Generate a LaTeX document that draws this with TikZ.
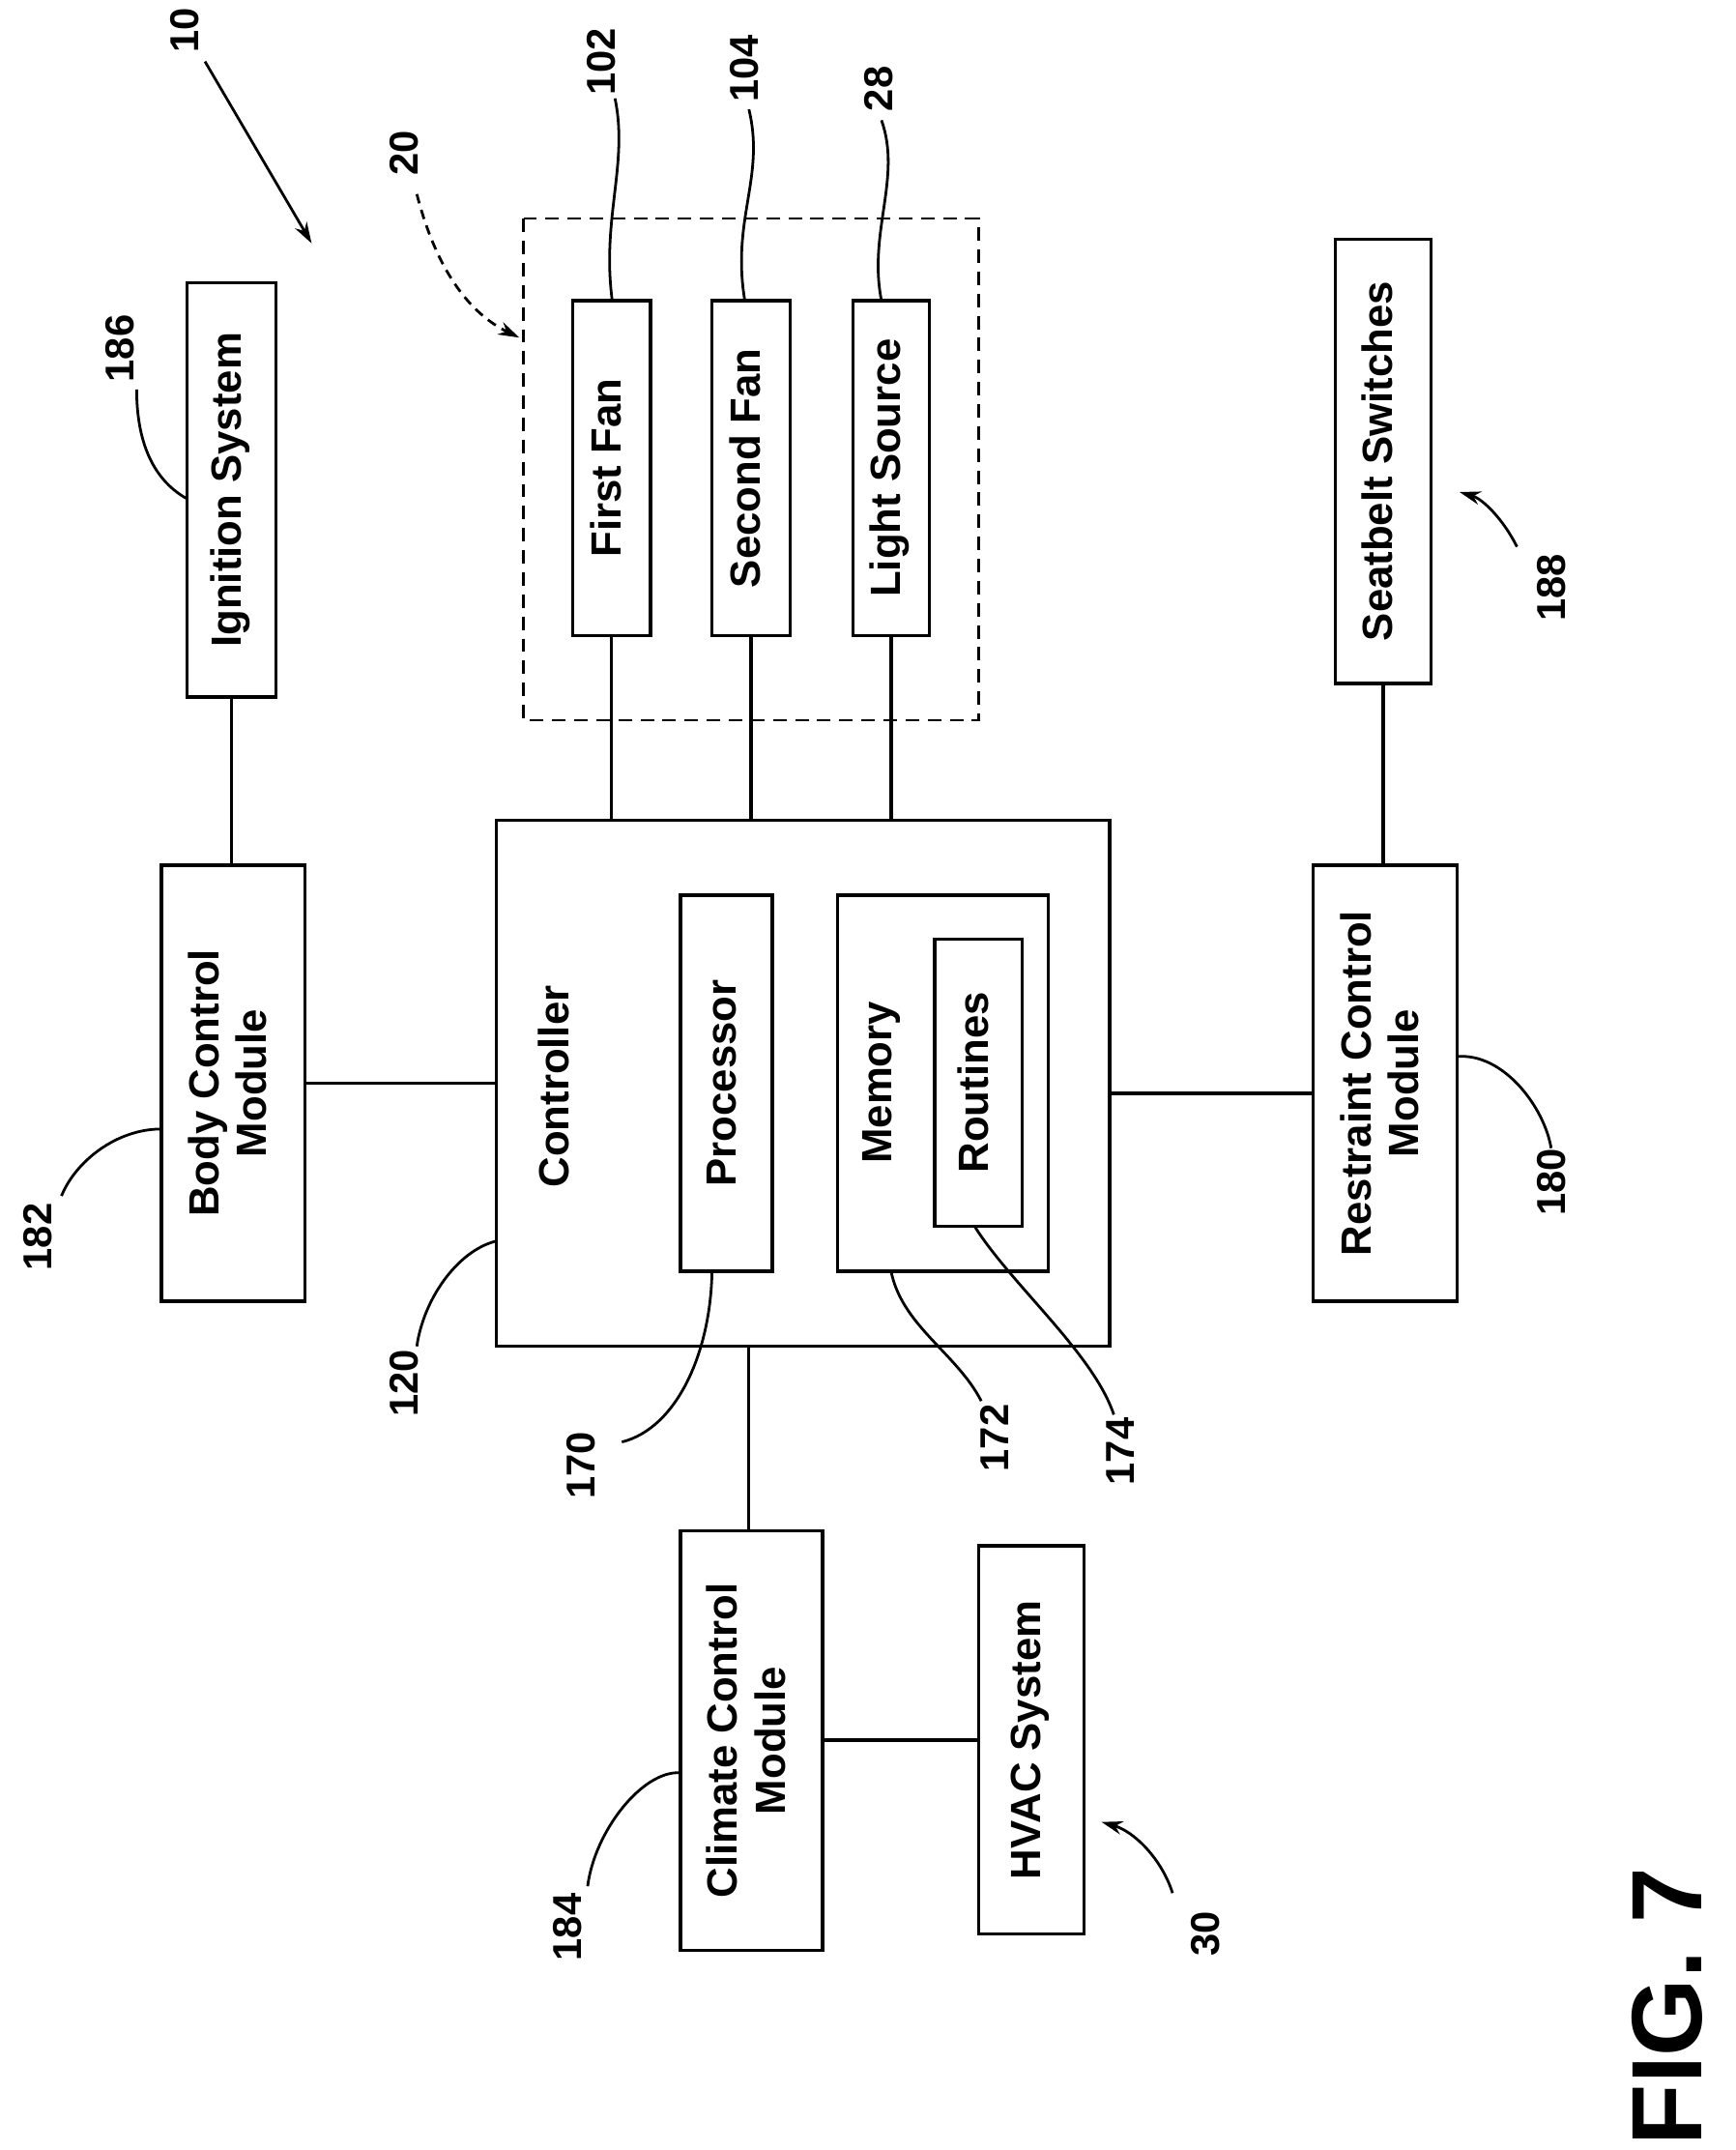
\documentclass[tikz,border=0pt]{standalone}
\usepackage{fontspec}
\setmainfont{Liberation Sans}
\usetikzlibrary{arrows.meta}
\begin{document}
\begin{tikzpicture}[x=0.05cm,y=-0.05cm,line width=3.4pt,
 bx/.style={draw,inner sep=0pt,font=\fontsize{44}{50}\selectfont\bfseries},
 num/.style={font=\fontsize{42}{46}\selectfont\bfseries,rotate=90,inner sep=0pt},
 ld/.style={line width=2.8pt}]
\useasboundingbox (0,0) rectangle (1270,1573);
\newcommand\mybox[6]{\node[bx,minimum width={(#4-#2)*0.05cm},minimum height={(#5-#3)*0.05cm}] (#1) at ({(#2+#4)/2},{(#3+#5)/2}) {\rotatebox{90}{\begin{tabular}{c}#6\end{tabular}}};}
\draw[dash pattern=on 14pt off 9pt,line width=2.4pt] (383,160) rectangle (716,527);
\mybox{ign}{137}{207}{202}{510}{Ignition System}
\mybox{ff}{419}{220}{476}{465}{First Fan}
\mybox{sf}{521}{220}{578}{465}{Second Fan}
\mybox{ls}{624}{220}{680}{465}{Light Source}
\mybox{sb}{977}{175}{1047}{500}{Seatbelt Switches}
\mybox{bcm}{118}{633}{223}{952}{Body Control\\Module}
\node[bx,minimum width={449*0.05cm},minimum height={385*0.05cm}] (ctl) at (587.5,792.5) {};
\node[num,font=\fontsize{44}{50}\selectfont\bfseries] (ctlt) at (405,795) {Controller};
\mybox{proc}{498}{655}{565}{930}{Processor}
\draw (613,655) rectangle (767,930);
\node[num,font=\fontsize{44}{50}\selectfont\bfseries] at (645,792) {Memory};
\mybox{rout}{684}{687}{748}{897}{Routines}
\mybox{rcm}{961}{633}{1066}{952}{Restraint Control\\Module}
\mybox{ccm}{498}{1120}{602}{1427}{Climate Control\\Module}
\mybox{hvac}{716}{1131}{793}{1415}{HVAC System}
% connectors
\draw (ign.south) -- (ign.south |- bcm.north);
\draw (ff.south) -- (ff.south |- ctl.north);
\draw (sf.south) -- (sf.south |- ctl.north);
\draw (ls.south) -- (ls.south |- ctl.north);
\draw (sb.south) -- (sb.south |- rcm.north);
\draw (bcm.east) -- (bcm.east -| ctl.west);
\draw (ctl.east |- 0,800) -- (rcm.west |- 0,800);
\draw (548,985) -- (548,1120);
\draw (ccm.east |- 0,1273) -- (hvac.west |- 0,1273);
% labels
\node[num] at (135,22) {10};
\draw[ld,-{Stealth[length=22pt,width=14pt]}] (150,45) -- (228,178);
\node[num] at (296,112) {20};
\draw[ld,dash pattern=on 10pt off 7pt,-{Stealth[length=22pt,width=14pt]}] (305,142) .. controls (320,200) and (345,230) .. (380,247);
\node[num] at (440,45) {102};
\draw[ld] (448,220) .. controls (440,160) and (460,120) .. (450,72);
\node[num] at (545,50) {104};
\draw[ld] (545,220) .. controls (535,160) and (560,130) .. (548,80);
\node[num] at (643,65) {28};
\draw[ld] (645,220) .. controls (635,170) and (660,130) .. (645,88);
\node[num] at (88,255) {186};
\draw[ld] (137,365) .. controls (110,350) and (100,320) .. (100,285);
\node[num] at (1135,430) {188};
\draw[ld,-{Stealth[length=22pt,width=14pt]}] (1110,400) .. controls (1100,380) and (1085,365) .. (1068,360);
\node[num] at (28,905) {182};
\draw[ld] (118,826) .. controls (85,826) and (55,850) .. (45,875);
\node[num] at (296,1012) {120};
\draw[ld] (363,908) .. controls (335,915) and (310,950) .. (305,985);
\node[num] at (425,1072) {170};
\draw[ld] (521,930) .. controls (520,990) and (495,1045) .. (455,1055);
\node[num] at (728,1052) {172};
\draw[ld] (652,930) .. controls (660,970) and (700,990) .. (718,1025);
\node[num] at (820,1062) {174};
\draw[ld] (713,897) .. controls (740,940) and (800,990) .. (815,1035);
\node[num] at (1135,865) {180};
\draw[ld] (1066,773) .. controls (1100,770) and (1130,810) .. (1135,840);
\node[num] at (415,1410) {184};
\draw[ld] (498,1297) .. controls (470,1295) and (435,1340) .. (430,1380);
\node[num] at (882,1415) {30};
\draw[ld,-{Stealth[length=22pt,width=14pt]}] (858,1385) .. controls (850,1360) and (830,1340) .. (806,1333);
\node[rotate=90,font=\fontsize{104}{110}\selectfont\bfseries,inner sep=0pt] at (1220,1468) {FIG. 7};
\end{tikzpicture}
\end{document}
